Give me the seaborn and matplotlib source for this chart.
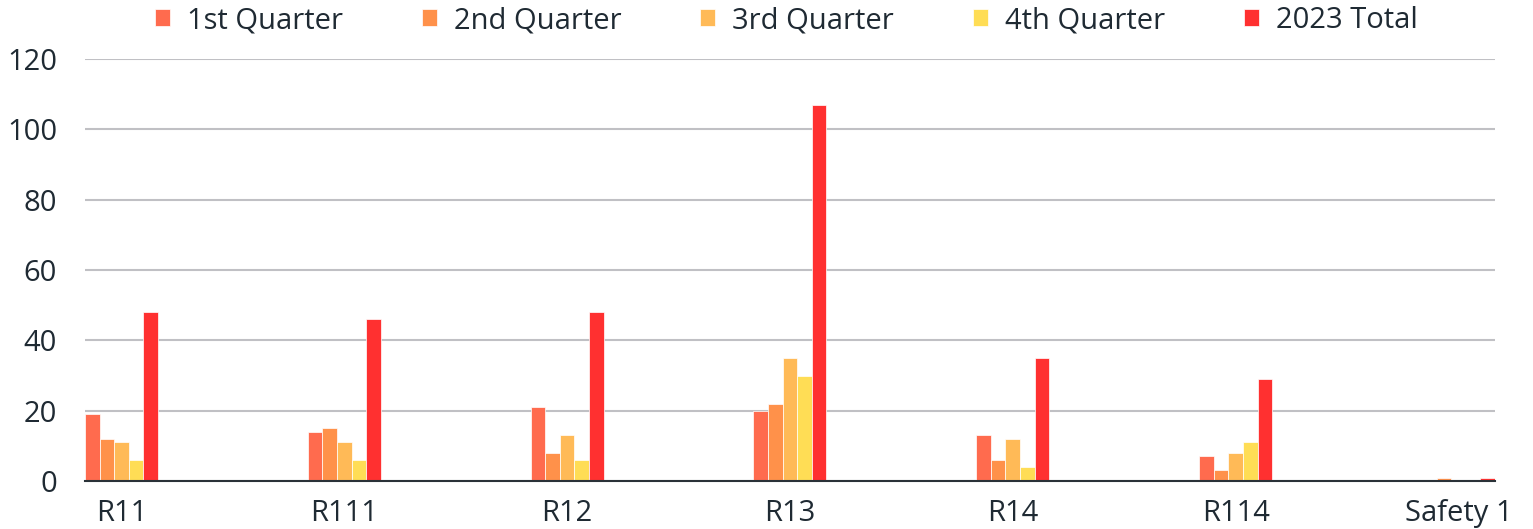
import matplotlib
matplotlib.use("Agg")
import matplotlib.pyplot as plt
import seaborn as sns
import pandas as pd

# ---------------------------------------------------
# DATA
# ---------------------------------------------------

regions = ["R11", "R111", "R12", "R13", "R14", "R114", "Safety 1"]

series_names = ["1st Quarter", "2nd Quarter", "3rd Quarter", "4th Quarter", "2023 Total"]

q1 = [19, 14, 21, 20, 13, 7, 0]
q2 = [12, 15, 8, 22, 6, 3, 1]
q3 = [11, 11, 13, 35, 12, 8, 0]
q4 = [6, 6, 6, 30, 4, 11, 0]
total = [48, 46, 48, 107, 35, 29, 1]

colors = ["#FF6B4E", "#FF914A", "#FFBA57", "#FFDD55", "#FF3030"]

rows = []
for name, vals in zip(series_names, [q1, q2, q3, q4, total]):
    for r, v in zip(regions, vals):
        rows.append({"Region": r, "Series": name, "Value": v})
df = pd.DataFrame(rows)

# ---------------------------------------------------
# CHART
# ---------------------------------------------------

sns.set_style("white")
plt.rcParams["font.family"] = ["Open Sans", "DejaVu Sans"]

text_color = "#1F2A33"
group_width = 0.3276

fig = plt.figure(figsize=(15.33, 5.29), dpi=100)
ax = fig.add_axes([0.0554, 0.0907, 0.9198, 0.7978])

sns.barplot(
    data=df,
    x="Region",
    y="Value",
    hue="Series",
    hue_order=series_names,
    order=regions,
    palette=colors,
    saturation=1,
    width=group_width,
    gap=0,
    edgecolor="white",
    linewidth=0.5,
    ax=ax,
)

ax.set_xlim(-group_width / 2, len(regions) - 1 + group_width / 2)
ax.set_ylim(0, 120)
ax.set_yticks(range(0, 121, 20))

ax.yaxis.grid(True, color="#C0C0C4", linewidth=1.5)
ax.set_axisbelow(True)

for side in ["top", "right", "left"]:
    ax.spines[side].set_visible(False)
ax.spines["bottom"].set_color("#2A3238")
ax.spines["bottom"].set_linewidth(1.5)

ax.tick_params(axis="both", length=0, labelsize=21, colors=text_color)
ax.tick_params(axis="x", pad=13)
ax.tick_params(axis="y", pad=20)

ax.set_xlabel("")
ax.set_ylabel("")

ax.get_legend().remove()
handles, labels = ax.get_legend_handles_labels()
fig.legend(
    handles,
    labels,
    loc="center",
    bbox_to_anchor=(0.513, 0.961),
    ncol=5,
    frameon=False,
    fontsize=21,
    labelcolor=text_color,
    handlelength=0.5,
    handleheight=0.5,
    handletextpad=0.6,
    columnspacing=2.7,
)

plt.savefig("out.png", dpi=100)
plt.close()
